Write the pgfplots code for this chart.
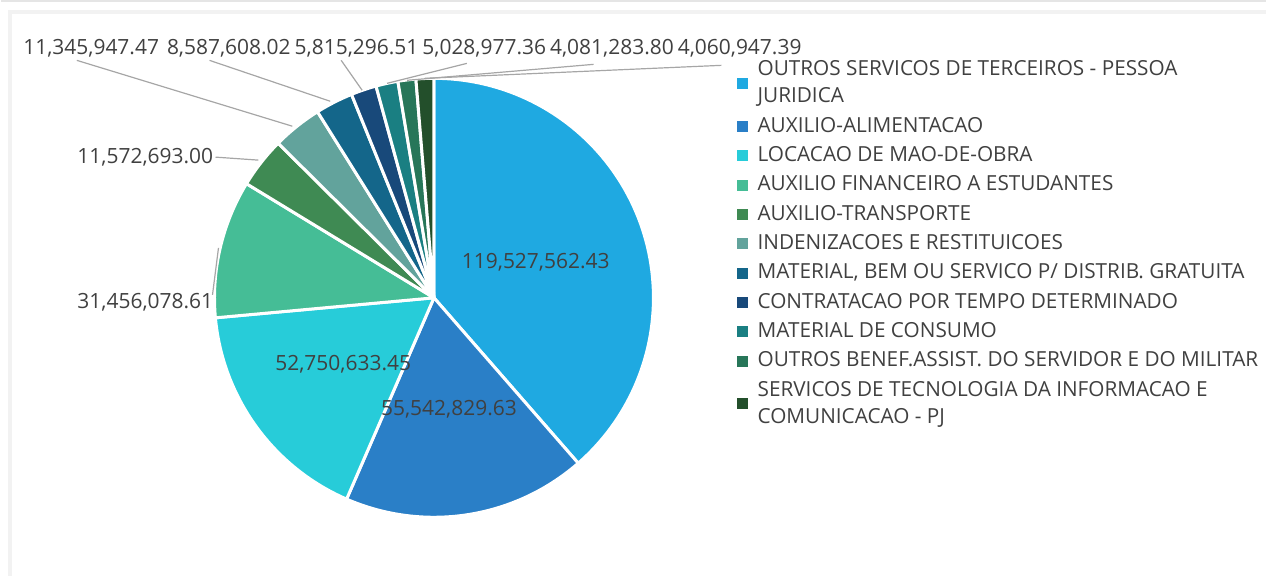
\documentclass[border=0pt]{standalone}
\usepackage{fontspec}
\setmainfont{Open Sans}
\usepackage{pgfplots}
\usepackage{pgfplotstable}
\pgfplotsset{compat=1.18}
\definecolor{cA}{HTML}{1FA9E1}
\definecolor{cB}{HTML}{2A7FC7}
\definecolor{cC}{HTML}{27CCD9}
\definecolor{cD}{HTML}{45BD96}
\definecolor{cE}{HTML}{3F8A53}
\definecolor{cF}{HTML}{62A39C}
\definecolor{cG}{HTML}{14668A}
\definecolor{cH}{HTML}{18497A}
\definecolor{cI}{HTML}{1A7F82}
\definecolor{cJ}{HTML}{277659}
\definecolor{cK}{HTML}{234F2B}
\definecolor{lbl}{HTML}{404040}
\definecolor{leader}{HTML}{A6A6A6}

% values in millions
\pgfplotstableread{
value color
119.52756243 cA
55.54282963 cB
52.75063345 cC
31.45607861 cD
11.57269300 cE
11.34594747 cF
8.58760802 cG
5.81529651 cH
5.02897736 cI
4.08128380 cJ
4.06094739 cK
}\piedata

\newcommand{\sr}{\rule[-3.9pt]{0pt}{13.5pt}}
\newcommand{\lgd}[1]{\begin{tabular}{@{}l@{}}#1\end{tabular}}

\begin{document}
\begin{tikzpicture}
\begin{axis}[
  width=634pt, height=288.5pt, scale only axis,
  xmin=0, xmax=1268, ymin=0, ymax=577,
  hide axis, clip=false,
  area legend,
  legend image code/.code={\fill[#1,draw=none] (0pt,-2.75pt) rectangle (5.5pt,2.75pt);},
  legend style={at={(axis cs:737,521)}, anchor=north west, draw=none, fill=none,
    inner sep=0pt, row sep=1.2pt, column sep=5pt,
    font=\fontsize{10.4}{12}\selectfont, text=lbl,
    nodes={inner sep=0pt, text depth=}, cells={anchor=west}},
]
\path (axis cs:0,0) rectangle (axis cs:1268,577);
\draw[gray!20, line width=1pt] (axis cs:0,576.5) -- (axis cs:1268,576.5);
\draw[gray!10, line width=2pt] (axis cs:9,0) -- (axis cs:9,565) -- (axis cs:1268,565);

\pgfmathsetmacro{\total}{0}
\pgfplotsforeachungrouped \i in {0,...,10}{
  \pgfplotstablegetelem{\i}{value}\of\piedata
  \pgfmathsetmacro{\total}{\total+\pgfplotsretval}
}
\pgfmathsetmacro{\angstart}{90}
\pgfplotsforeachungrouped \i in {0,...,10}{
  \pgfplotstablegetelem{\i}{value}\of\piedata
  \pgfmathsetmacro{\angend}{\angstart-(\pgfplotsretval/\total)*360}
  \pgfplotstablegetelem{\i}{color}\of\piedata
  \edef\temp{\noexpand\addplot[fill=\pgfplotsretval, draw=white, line width=1.5pt,
    line join=round, domain=\angstart:\angend, samples=90, variable=\noexpand\t]
    ({434+220*cos(\noexpand\t)},{279+220*sin(\noexpand\t)}) -- (axis cs:434,279) -- cycle;}
  \temp
  \global\let\angstart\angend
}
\legend{
  \lgd{\sr OUTROS SERVICOS DE TERCEIROS - PESSOA\\\sr JURIDICA},
  \lgd{\sr AUXILIO-ALIMENTACAO},
  \lgd{\sr LOCACAO DE MAO-DE-OBRA},
  \lgd{\sr AUXILIO FINANCEIRO A ESTUDANTES},
  \lgd{\sr AUXILIO-TRANSPORTE},
  \lgd{\sr INDENIZACOES E RESTITUICOES},
  {\lgd{\sr MATERIAL, BEM OU SERVICO P/ DISTRIB. GRATUITA}},
  \lgd{\sr CONTRATACAO POR TEMPO DETERMINADO},
  \lgd{\sr MATERIAL DE CONSUMO},
  \lgd{\sr OUTROS BENEF.ASSIST. DO SERVIDOR E DO MILITAR},
  \lgd{\sr SERVICOS DE TECNOLOGIA DA INFORMACAO E\\\sr COMUNICACAO - PJ}
}

% leader lines
\begin{scope}[leader, line width=0.6pt]
\draw (axis cs:215,420) -- (axis cs:258,417);
\draw (axis cs:212,282) -- (axis cs:218,329);
\draw (axis cs:76,517) -- (axis cs:292,451);
\draw (axis cs:209,517) -- (axis cs:330,476);
\draw (axis cs:341,517) -- (axis cs:362,487);
\draw (axis cs:467,514) -- (axis cs:387,494);
\draw (axis cs:594,513) -- (axis cs:407,497);
\draw (axis cs:722,512) -- (axis cs:425,499);
\end{scope}

% value labels
\begin{scope}[every node/.style={font=\fontsize{10.5}{12}\selectfont, text=lbl, inner sep=0pt}]
\node at (axis cs:536,315) {119,527,562.43};
\node at (axis cs:449,167) {55,542,829.63};
\node at (axis cs:343,212) {52,750,633.45};
\node[anchor=east] at (axis cs:213,275) {31,456,078.61};
\node[anchor=east] at (axis cs:213,420) {11,572,693.00};
\node[anchor=west] at (axis cs:22,529) {11,345,947.47};
\node[anchor=west] at (axis cs:166,529) {8,587,608.02};
\node[anchor=west] at (axis cs:294,529) {5,815,296.51};
\node[anchor=west] at (axis cs:422,529) {5,028,977.36};
\node[anchor=west] at (axis cs:550,529) {4,081,283.80};
\node[anchor=west] at (axis cs:678,529) {4,060,947.39};
\end{scope}
\end{axis}
\end{tikzpicture}
\end{document}
